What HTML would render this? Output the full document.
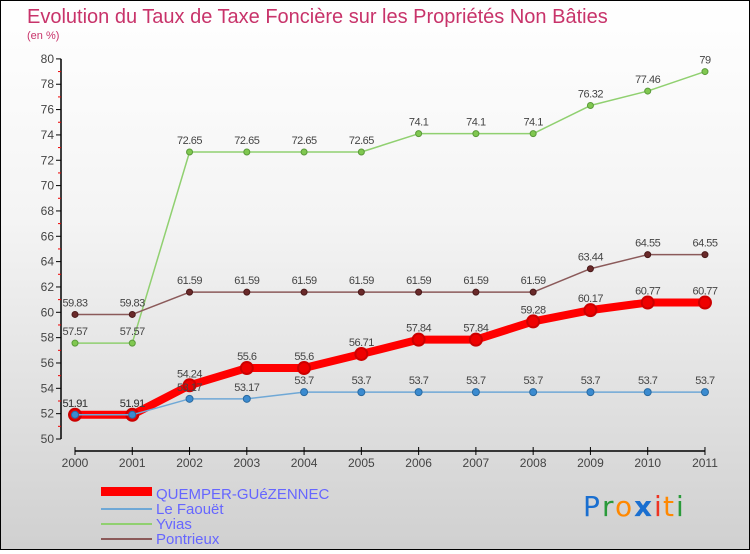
<!DOCTYPE html>
<html><head><meta charset="utf-8"><style>
html,body{margin:0;padding:0}
body{width:750px;height:550px;overflow:hidden;font-family:"Liberation Sans",sans-serif}
#wrap{position:absolute;left:0;top:0;width:748px;height:548px;border:1px solid #000;background:linear-gradient(#fff 0%,#f4f4f4 40%,#d0d0d0 100%)}
</style></head><body>
<div id="wrap">
<svg id="chart" width="748" height="548" xmlns="http://www.w3.org/2000/svg">
<text x="26" y="22" font-size="20" fill="#c8336a">Evolution du Taux de Taxe Foncière sur les Propriétés Non Bâties</text>
<text x="26" y="38" font-size="11" fill="#c8336a">(en %)</text>
<g id="axes"></g><g id="series"></g><g id="labels"></g>
<g>
<rect x="100" y="486" width="51" height="9" fill="#f00"/>
<text x="155" y="498" font-size="15" fill="#6666ff">QUEMPER-GUéZENNEC</text>
<rect x="100" y="507" width="51" height="2" fill="#6fa8d6"/>
<text x="155" y="513" font-size="15" fill="#6666ff">Le Faouët</text>
<rect x="100" y="522" width="51" height="2" fill="#90d070"/>
<text x="155" y="528" font-size="15" fill="#6666ff">Yvias</text>
<rect x="100" y="537" width="51" height="2" fill="#8b5a5a"/>
<text x="155" y="543" font-size="15" fill="#6666ff">Pontrieux</text>
</g>
<g font-size="28" font-family="'DejaVu Sans',sans-serif">
<text x="582" y="515" fill="#1a6fd0">P</text><text x="601" y="515" fill="#2a9a3a">r</text><text x="614" y="515" fill="#ff8800">o</text><text x="633" y="515" fill="#1a6fd0" font-weight="bold">x</text><text x="653" y="515" fill="#ee3322">i</text><text x="662" y="515" fill="#ff8800">t</text><text x="675" y="515" fill="#2a9a3a">i</text>
</g>
</svg></div>
<script>
const years=["2000","2001","2002","2003","2004","2005","2006","2007","2008","2009","2010","2011"];
const quemper=[51.91,51.91,54.24,55.6,55.6,56.71,57.84,57.84,59.28,60.17,60.77,60.77];
const leFaouet=[51.91,51.91,53.17,53.17,53.7,53.7,53.7,53.7,53.7,53.7,53.7,53.7];
const yvias=[57.57,57.57,72.65,72.65,72.65,72.65,74.1,74.1,74.1,76.32,77.46,79];
const pontrieux=[59.83,59.83,61.59,61.59,61.59,61.59,61.59,61.59,61.59,63.44,64.55,64.55];
const yTicks=[50,52,54,56,58,60,62,64,66,68,70,72,74,76,78,80];
const NS="http://www.w3.org/2000/svg";
function X(i){return 74+i*57.27;}
function Y(v){return 438-(v-50)*12.67;}
function mk(tag,attrs,parent){const e=document.createElementNS(NS,tag);for(const k in attrs)e.setAttribute(k,attrs[k]);parent.appendChild(e);return e;}
const axes=document.getElementById('axes'),ser=document.getElementById('series'),lab=document.getElementById('labels');
let ya=mk('line',{x1:60,y1:Y(80),x2:60,y2:Y(50),stroke:'#000','stroke-width':1.5},axes);


yTicks.forEach(t=>{
 mk('line',{x1:55,y1:Y(t),x2:60,y2:Y(t),stroke:'#000'},axes);
 if(t<80)mk('line',{x1:57,y1:Y(t+1),x2:60,y2:Y(t+1),stroke:'#e00'},axes);
 let tx=mk('text',{x:53,y:Y(t)+4,'font-size':12,fill:'#444','text-anchor':'end'},axes);tx.textContent=t;
 
 
});
let xa=mk('line',{x1:X(0),y1:450,x2:X(11),y2:450,stroke:'#000','stroke-width':1.5},axes);


years.forEach((y,i)=>{
 mk('line',{x1:X(i),y1:446,x2:X(i),y2:454,stroke:'#000'},axes);
 let tx=mk('text',{x:X(i),y:466,'font-size':12,fill:'#444','text-anchor':'middle'},axes);tx.textContent=y;
 
 
});
function series(data,name,color,w,r,dotFill,dotStroke,dsw){
 const g=mk('g',{},ser);
 
 
 const pl=mk('polyline',{points:data.map((v,i)=>X(i)+','+Y(v)).join(' '),fill:'none',stroke:color,'stroke-width':w,'stroke-linejoin':'round'},g);
 
 
 data.forEach((v,i)=>{
  const c=mk('circle',{cx:X(i),cy:Y(v),r:r,fill:dotFill,stroke:dotStroke,'stroke-width':dsw},g);
  
  
  const t=mk('text',{x:X(i),y:Y(v)-8,'font-size':11,fill:'#444','text-anchor':'middle','letter-spacing':'-0.5'},lab);
  t.textContent=v;
  
  
 });
}
series(yvias,'yvias','#90d070',1.5,3,'#80c850','#5a9a3a',1);
series(pontrieux,'pontrieux','#8b5a5a',1.5,3,'#6a2a2a','#4a1a1a',1);
series(quemper,'quemper','#f00',8,6,'#e00','#c00',2);
series(leFaouet,'le-faouet','#6fa8d6',1.5,3.5,'#3b8bd0','#2a6aa0',1);
</script>
</body></html>
